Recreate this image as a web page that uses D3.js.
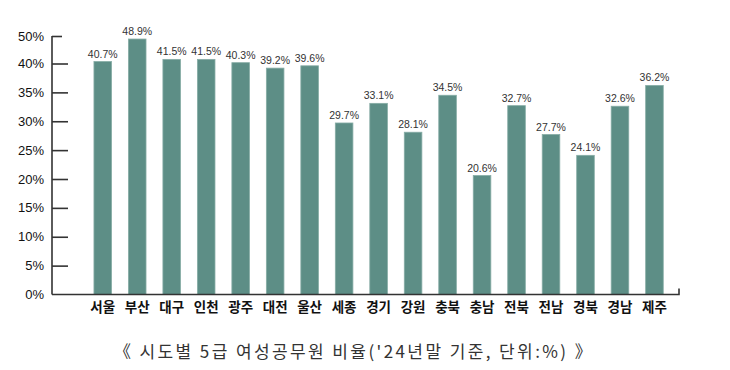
<!DOCTYPE html>
<html>
<head>
<meta charset="utf-8">
<script src="https://cdn.jsdelivr.net/npm/d3@7"></script>
<style>
  html, body { margin: 0; padding: 0; background: #fff; }
  svg { display: block; }
</style>
</head>
<body>
<svg id="chart" width="730" height="370"></svg>
<script>
const categories = ["서울","부산","대구","인천","광주","대전","울산","세종","경기","강원","충북","충남","전북","전남","경북","경남","제주"];
const values = [40.7, 48.9, 41.5, 41.5, 40.3, 39.2, 39.6, 29.7, 33.1, 28.1, 34.5, 20.6, 32.7, 27.7, 24.1, 32.6, 36.2];
const tickValues = [0, 5, 10, 15, 20, 25, 30, 35, 40, 50];
const tickLabels = ["0%","5%","10%","15%","20%","25%","30%","35%","40%","50%"];
const title = "《 시도별 5급 여성공무원 비율('24년말 기준, 단위:%) 》";

const svg = d3.select("#chart");
svg.append("rect").attr("width", 730).attr("height", 370).attr("fill", "#fff");

const axisX = 52;
const baseY = 294.5;

// The reference axis places 40% at y≈63 and 50% at y≈36 (compressed top segment)
const y = d3.scaleLinear().domain([0, 40, 50]).range([baseY, 63.5, 36]);
const x = d3.scaleBand().domain(categories).range([85.5, 671.7]).paddingInner(0.49).paddingOuter(0.245);

// bars
svg.append("g").selectAll("rect").data(values).join("rect")
  .attr("x", (d, i) => x(categories[i]))
  .attr("y", d => y(d))
  .attr("width", x.bandwidth())
  .attr("height", d => baseY - y(d))
  .attr("fill", "#5d8e86")
  .attr("stroke", "#86aca5")
  .attr("stroke-width", 0.8);

// value labels
svg.append("g").selectAll("text").data(values).join("text")
  .attr("x", (d, i) => x(categories[i]) + x.bandwidth() / 2)
  .attr("y", d => y(d) - 4)
  .attr("text-anchor", "middle")
  .attr("font-family", "Liberation Sans, Arial, sans-serif")
  .attr("font-size", 10.5)
  .attr("fill", "#333")
  .text(d => d.toFixed(1) + "%");

// y axis ticks
const yAxis = d3.axisRight(y).tickValues(tickValues)
  .tickFormat(() => "")
  .tickSize(16).tickSizeOuter(0);
const gy = svg.append("g").attr("transform", `translate(${axisX},0)`).call(yAxis);
gy.select(".domain").remove();
gy.selectAll(".tick line").attr("stroke", "#333").attr("stroke-width", 1.6)
  .attr("x2", d => d === 50 ? 10 : (d === 0 ? 0 : 16));
gy.selectAll(".tick text").remove();
svg.append("line").attr("x1", axisX).attr("x2", axisX).attr("y1", y(50)).attr("y2", baseY)
  .attr("stroke", "#333").attr("stroke-width", 1.6);

// y tick labels
svg.append("g").selectAll("text").data(tickValues).join("text")
  .attr("x", 44)
  .attr("y", d => y(d))
  .attr("dy", "0.35em")
  .attr("text-anchor", "end")
  .attr("font-family", "Liberation Sans, Arial, sans-serif")
  .attr("font-size", 13)
  .attr("fill", "#111")
  .text((d, i) => tickLabels[i]);

// x axis baseline with end tick
svg.append("path")
  .attr("d", `M${axisX},${baseY}H679V${baseY - 6}`)
  .attr("fill", "none").attr("stroke", "#333").attr("stroke-width", 1.6);

// category labels
svg.append("g").selectAll("text").data(categories).join("text")
  .attr("x", d => x(d) + x.bandwidth() / 2)
  .attr("y", 312)
  .attr("text-anchor", "middle")
  .attr("font-family", "'Noto Sans CJK KR', sans-serif")
  .attr("font-weight", "bold")
  .attr("font-size", 13.5)
  .attr("fill", "#111")
  .text(d => d);

// caption
svg.append("text")
  .attr("x", 354)
  .attr("y", 358)
  .attr("text-anchor", "middle")
  .attr("font-family", "'Noto Sans CJK KR', sans-serif")
  .attr("font-size", 17)
  .attr("letter-spacing", 2.4)
  .attr("fill", "#333")
  .text(title);
</script>
</body>
</html>
